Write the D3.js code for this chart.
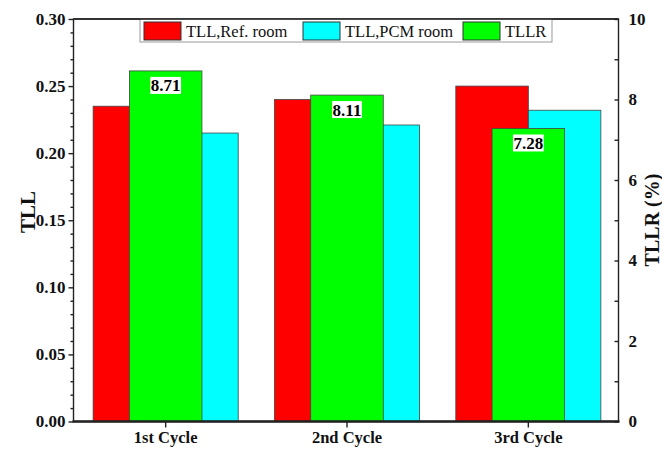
<!DOCTYPE html>
<html>
<head>
<meta charset="utf-8">
<script src="https://cdn.jsdelivr.net/npm/d3@7"></script>
<style>
  html, body { margin: 0; padding: 0; background: #fff; }
  svg text { font-family: "Liberation Serif", Tinos, "Times New Roman", "DejaVu Serif", serif !important; }
</style>
</head>
<body>
<svg id="chart" width="662" height="449"></svg>
<script>
// Total load loss per cycle and its reduction ratio
const cycles = ["1st Cycle", "2nd Cycle", "3rd Cycle"];
const tllRef = [0.235, 0.240, 0.250];
const tllPcm = [0.215, 0.221, 0.232];
const tllr = [8.71, 8.11, 7.28];

const leftTicks = [0, 0.05, 0.10, 0.15, 0.20, 0.25, 0.30];
const rightTicks = [0, 2, 4, 6, 8, 10];

const seriesNames = ["TLL,Ref. room", "TLL,PCM room", "TLLR"];
const seriesColors = ["#ff0000", "#00ffff", "#00ff00"];

const svg = d3.select("#chart");
const m = { left: 73.5, right: 618.5, top: 19, bottom: 421.5 };

const x = d3.scaleBand().domain(cycles).range([m.left + 1.5, m.right + 0.5]).padding(0);
const yL = d3.scaleLinear().domain([0, 0.30]).range([m.bottom, m.top]);
const yR = d3.scaleLinear().domain([0, 10]).range([m.bottom, m.top]);
const bw = x.bandwidth() * 0.4;
const cx = c => x(c) + x.bandwidth() / 2;

// Bars: reference and PCM side by side, TLLR centred on top
const bars = svg.append("g").attr("stroke", "#444").attr("stroke-width", 0.8);
bars.selectAll("rect.ref").data(cycles).join("rect")
  .attr("x", c => cx(c) - bw).attr("width", bw)
  .attr("y", (c, i) => yL(tllRef[i])).attr("height", (c, i) => yL(0) - yL(tllRef[i]))
  .attr("fill", seriesColors[0]);
bars.selectAll("rect.pcm").data(cycles).join("rect")
  .attr("x", c => cx(c)).attr("width", bw)
  .attr("y", (c, i) => yL(tllPcm[i])).attr("height", (c, i) => yL(0) - yL(tllPcm[i]))
  .attr("fill", seriesColors[1]);
bars.selectAll("rect.tllr").data(cycles).join("rect")
  .attr("x", c => cx(c) - bw / 2).attr("width", bw)
  .attr("y", (c, i) => yR(tllr[i])).attr("height", (c, i) => yR(0) - yR(tllr[i]))
  .attr("fill", seriesColors[2]);

// Value labels on the TLLR bars
const labels = svg.append("g");
cycles.forEach((c, i) => {
  const g = labels.append("g");
  const t = g.append("text")
    .attr("x", cx(c)).attr("y", yR(tllr[i]) + 20.5)
    .attr("text-anchor", "middle")
    .attr("font-size", 17).attr("font-weight", "bold").attr("fill", "#000")
    .text(tllr[i].toFixed(2));
  const bb = t.node().getBBox();
  g.insert("rect", "text")
    .attr("x", bb.x - 0.5).attr("y", yR(tllr[i]) + 6)
    .attr("width", bb.width + 1).attr("height", 17)
    .attr("fill", "#fff");
});

// Frame
svg.append("rect")
  .attr("x", m.left).attr("y", m.top)
  .attr("width", m.right - m.left).attr("height", m.bottom - m.top)
  .attr("fill", "none").attr("stroke", "#222").attr("stroke-width", 1.4);
svg.append("line")
  .attr("x1", m.left - 1).attr("x2", m.right + 1)
  .attr("y1", m.bottom).attr("y2", m.bottom)
  .attr("stroke", "#222").attr("stroke-width", 2.4);

// Left axis
const leftAxis = svg.append("g").attr("transform", `translate(${m.left},0)`)
  .call(d3.axisLeft(yL).tickValues(leftTicks).tickFormat(d3.format(".2f")).tickSize(5).tickPadding(3));
const leftMinor = svg.append("g").attr("transform", `translate(${m.left},0)`)
  .call(d3.axisLeft(yL).tickValues(d3.range(0, 0.301, 0.01).filter(v => Math.abs(Math.round(v * 20) - v * 20) > 1e-6)).tickSize(3).tickFormat(""));

// Right axis (ticks inside)
const rightAxis = svg.append("g").attr("transform", `translate(${m.right},0)`)
  .call(d3.axisRight(yR).tickValues(rightTicks).tickFormat(d3.format("d")).tickSize(-4).tickPadding(10));
const rightMinor = svg.append("g").attr("transform", `translate(${m.right},0)`)
  .call(d3.axisRight(yR).tickValues([1, 3, 5, 7, 9]).tickSize(-4).tickFormat(""));

// Bottom axis
const bottomAxis = svg.append("g").attr("transform", `translate(0,${m.bottom})`)
  .call(d3.axisBottom(x).tickSize(6).tickPadding(4));

[leftAxis, leftMinor, rightAxis, rightMinor, bottomAxis].forEach(a => {
  a.attr("font-family", null);
  a.select(".domain").remove();
  a.selectAll(".tick line").attr("stroke", "#222").attr("stroke-width", 1.4);
  a.selectAll(".tick text")
    .attr("fill", "#111")
    .attr("font-weight", "bold")
    .attr("font-size", 17);
});
bottomAxis.selectAll(".tick text").attr("font-size", 16.5);

// Axis titles
svg.append("text")
  .attr("transform", "translate(35,212) rotate(-90)")
  .attr("text-anchor", "middle").attr("font-weight", "bold").attr("font-size", 21)
  .attr("fill", "#111").text("TLL");
svg.append("text")
  .attr("transform", "translate(659,220) rotate(-90)")
  .attr("text-anchor", "middle").attr("font-weight", "bold").attr("font-size", 20)
  .attr("fill", "#111").text("TLLR (%)");

// Legend
const legend = svg.append("g");
legend.append("rect")
  .attr("x", 140).attr("y", m.top).attr("width", 412).attr("height", 23)
  .attr("fill", "#fff").attr("stroke", "#999").attr("stroke-width", 1);
const legendX = [144, 303, 463];
seriesNames.forEach((name, i) => {
  legend.append("rect")
    .attr("x", legendX[i]).attr("y", 22).attr("width", 37).attr("height", 18)
    .attr("fill", seriesColors[i]).attr("stroke", "#333").attr("stroke-width", 1);
  legend.append("text")
    .attr("x", legendX[i] + 42).attr("y", 37)
    .attr("font-size", 16.5).attr("fill", "#111")
    .text(name);
});
// top frame edge drawn over the legend box
svg.append("line")
  .attr("x1", m.left).attr("x2", m.right).attr("y1", m.top).attr("y2", m.top)
  .attr("stroke", "#222").attr("stroke-width", 1.4);
</script>
</body>
</html>
